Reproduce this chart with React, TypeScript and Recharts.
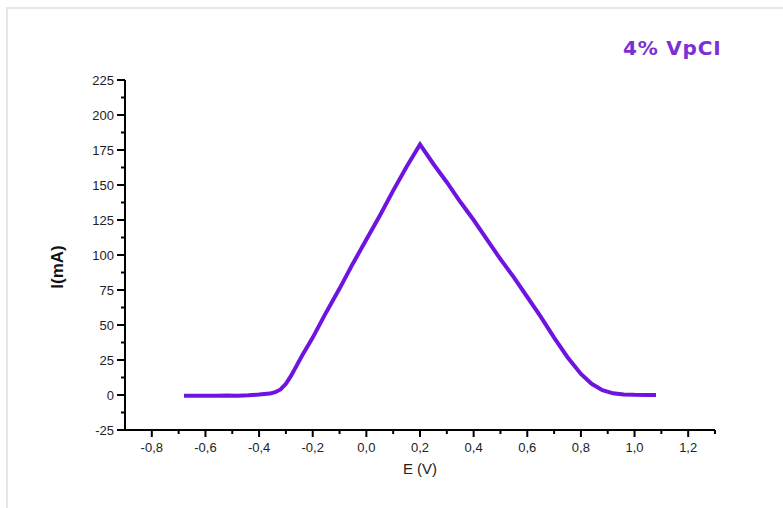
import { LineChart, Line, XAxis, YAxis, Label } from 'recharts';

// potential (V) and current (mA)
const potential = [
  -0.68, -0.64, -0.6, -0.56, -0.52, -0.48, -0.44, -0.4, -0.36, -0.34, -0.32, -0.3, -0.28, -0.26, -0.24,
  -0.2, -0.15, -0.1, -0.05, 0.0, 0.05, 0.1, 0.15, 0.2, 0.25, 0.3, 0.35, 0.4, 0.45, 0.5, 0.55, 0.6,
  0.65, 0.7, 0.75, 0.8, 0.84, 0.88, 0.92, 0.96, 1.0, 1.04, 1.08,
];
const current = [
  -0.5, -0.5, -0.6, -0.5, -0.4, -0.5, -0.2, 0.3, 1, 2, 4, 8, 14, 21, 28,
  41, 59, 76, 94, 111, 128, 146, 163, 179, 165, 152, 138, 125, 111, 97, 84, 70,
  56, 41, 27, 15, 8, 3.5, 1.2, 0.4, 0.1, 0, 0,
];

const xTicks = [
  -0.9, -0.8, -0.7, -0.6, -0.5, -0.4, -0.3, -0.2, -0.1, 0, 0.1, 0.2, 0.3, 0.4, 0.5, 0.6, 0.7, 0.8, 0.9,
  1.0, 1.1, 1.2, 1.3,
];
const yTicks = [-25, -12.5, 0, 12.5, 25, 37.5, 50, 62.5, 75, 87.5, 100, 112.5, 125, 137.5, 150, 162.5, 175, 187.5, 200, 212.5, 225];

const data = potential.map((e, i) => ({ e, i: current[i] }));

const LINE = '#6f14e0';
const TICK_FONT = '"Liberation Sans", Arial, sans-serif';

const XTick = (props: any) => {
  const { x, y, payload } = props;
  const v = payload.value as number;
  const major = Math.abs(Math.round(v * 10)) % 2 === 0;
  const edge = Math.abs(v + 0.9) < 1e-6;
  return (
    <g>
      {!edge && <line x1={x} x2={x} y1={y} y2={y + (major ? 7 : 4)} stroke="#000" strokeWidth={2} />}
      {major && (
        <text x={x} y={y + 22} textAnchor="middle" fontSize={13} fontFamily={TICK_FONT} fill="#222">
          {v.toFixed(1).replace('.', ',')}
        </text>
      )}
    </g>
  );
};

const YTick = (props: any) => {
  const { x, y, payload } = props;
  const v = payload.value as number;
  const major = v % 25 === 0;
  return (
    <g>
      <line x1={x} x2={x - (major ? 8 : 4)} y1={y} y2={y} stroke="#000" strokeWidth={2} />
      {major && (
        <text x={x - 11} y={y + 4.5} textAnchor="end" fontSize={13} fontFamily={TICK_FONT} fill="#222">
          {v}
        </text>
      )}
    </g>
  );
};

const YLabel = (props: any) => {
  const { viewBox } = props;
  const cx = viewBox.x - 2;
  const cy = viewBox.y + 187;
  return (
    <text
      x={cx}
      y={cy}
      transform={`rotate(-90, ${cx}, ${cy})`}
      textAnchor="middle"
      fontSize={17}
      fontWeight="bold"
      fontFamily={TICK_FONT}
      fill="#111"
    >
      I(mA)
    </text>
  );
};

export default function App() {
  return (
    <div style={{ position: 'absolute', left: 0, top: 0, width: 783, height: 508, background: '#fff' }}>
      <div
        style={{
          position: 'absolute',
          left: 6,
          top: 7,
          width: 790,
          height: 520,
          borderTop: '2px solid #e6e6e6',
          borderLeft: '2px solid #e6e6e6',
        }}
      />
      <div
        style={{
          position: 'absolute',
          left: 623,
          top: 36,
          fontFamily: '"DejaVu Sans", Verdana, sans-serif',
          fontWeight: 'bold',
          fontSize: 20,
          letterSpacing: 0.8,
          color: '#7b2fd8',
          whiteSpace: 'nowrap',
        }}
      >
        4% VpCI
      </div>
      <div style={{ position: 'absolute', left: 0, top: 0 }}>
        <LineChart width={783} height={508} data={data} margin={{ top: 80, right: 68, bottom: 18, left: 65 }}>
          <XAxis
            type="number"
            dataKey="e"
            domain={[-0.9, 1.3]}
            ticks={xTicks}
            interval={0}
            tickSize={0}
            tickMargin={0}
            tickLine={false}
            tick={<XTick />}
            axisLine={{ stroke: '#000', strokeWidth: 2 }}
            height={60}
          >
            <Label value="E (V)" position="insideBottom" offset={16} fontSize={15} fontFamily={TICK_FONT} fill="#222" />
          </XAxis>
          <YAxis
            type="number"
            domain={[-25, 225]}
            ticks={yTicks}
            interval={0}
            tickSize={0}
            tickMargin={0}
            tickLine={false}
            tick={<YTick />}
            axisLine={{ stroke: '#000', strokeWidth: 2 }}
            width={60}
          >
            <Label content={<YLabel />} />
          </YAxis>
          <Line
            type="linear"
            dataKey="i"
            stroke={LINE}
            strokeWidth={4}
            dot={false}
            isAnimationActive={false}
          />
        </LineChart>
      </div>
    </div>
  );
}
